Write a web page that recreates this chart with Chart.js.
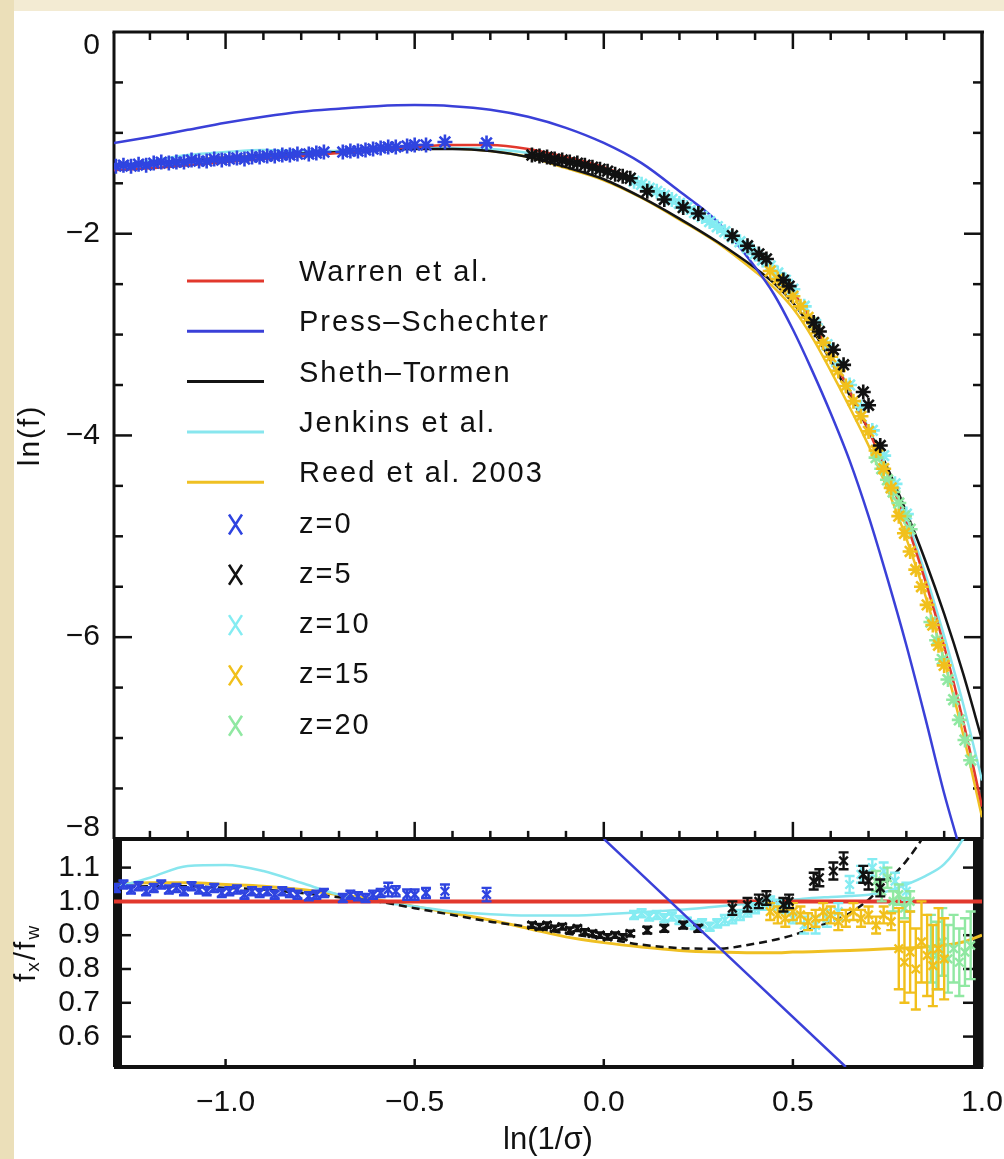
<!DOCTYPE html>
<html>
<head>
<meta charset="utf-8">
<title>ln(f) vs ln(1/σ)</title>
<script src="https://cdn.jsdelivr.net/npm/chart.js@4.4.1/dist/chart.umd.min.js"></script>
<style>
  html, body { margin: 0; padding: 0; background: #f0e6c8; }
  canvas { display: block; }
</style>
</head>
<body>
<canvas id="massFn" width="1004" height="1159"></canvas>
<script>
// =========================
// Data
// x = ln(1/sigma), upper panel = ln(f), lower panel = f_x / f_warren
// =========================

const xMin = -1.295;
const xMax = 1.0;

// shared x grid for the fitted curves
const lnSigmaGrid = [-1.295, -1.2, -1.1, -1.0, -0.9, -0.8, -0.7, -0.6, -0.5, -0.4, -0.3, -0.2, -0.1, 0.0, 0.1,
                     0.2, 0.3, 0.4, 0.45, 0.5, 0.55, 0.6, 0.65, 0.7, 0.75, 0.8, 0.85, 0.9, 0.95, 1.0];

// upper panel curves, ln(f)
const warrenLnF   = [-1.37, -1.35, -1.32, -1.29, -1.26, -1.23, -1.20, -1.17, -1.14, -1.12, -1.12, -1.16, -1.24, -1.34, -1.50,
                     -1.70, -1.93, -2.21, -2.37, -2.58, -2.86, -3.20, -3.56, -3.95, -4.38, -4.87, -5.44, -6.09, -6.83, -7.68];
const shethLnF    = [-1.33, -1.31, -1.28, -1.25, -1.23, -1.205, -1.19, -1.17, -1.16, -1.16, -1.18, -1.24, -1.34, -1.46, -1.64,
                     -1.85, -2.08, -2.34, -2.49, -2.685, -2.94, -3.26, -3.60, -3.945, -4.32, -4.76, -5.24, -5.77, -6.36, -7.02];
const jenkinsLnF  = [-1.33, -1.28, -1.22, -1.19, -1.17, -1.18, -1.18, -1.17, -1.155, -1.15, -1.16, -1.20, -1.28, -1.38, -1.53,
                     -1.725, -1.945, -2.215, -2.37, -2.575, -2.85, -3.19, -3.545, -3.93, -4.35, -4.82, -5.37, -5.99, -6.66, -7.42];
const reedLnF     = [-1.32, -1.30, -1.27, -1.24, -1.22, -1.20, -1.18, -1.165, -1.155, -1.155, -1.18, -1.24, -1.35, -1.47, -1.645,
                     -1.86, -2.09, -2.375, -2.535, -2.74, -3.02, -3.36, -3.72, -4.10, -4.53, -5.02, -5.585, -6.23, -6.96, -7.785];

const pressX      = [-1.295, -1.2, -1.1, -1.0, -0.9, -0.8, -0.7, -0.6, -0.5, -0.4, -0.3, -0.2, -0.1, 0.0, 0.1,
                     0.2, 0.3, 0.4, 0.45, 0.5, 0.55, 0.6, 0.65, 0.7, 0.75, 0.8, 0.85, 0.9, 0.934];
const pressLnF    = [-1.10, -1.04, -0.97, -0.90, -0.84, -0.79, -0.76, -0.735, -0.725, -0.735, -0.77, -0.84, -0.95, -1.10, -1.30,
                     -1.58, -1.88, -2.33, -2.60, -2.95, -3.35, -3.78, -4.25, -4.80, -5.42, -6.08, -6.80, -7.55, -8.0];

// lower panel curves, ratio to Warren et al.
const shethRatio   = [1.04, 1.045, 1.045, 1.04, 1.035, 1.025, 1.012, 1.0, 0.98, 0.96, 0.94, 0.925, 0.905, 0.89, 0.872,
                      0.862, 0.86, 0.875, 0.886, 0.90, 0.92, 0.94, 0.965, 1.005, 1.06, 1.12, 1.20, 1.30, 1.42, 1.55];
const jenkinsRatio = [1.04, 1.07, 1.105, 1.108, 1.09, 1.055, 1.02, 1.0, 0.985, 0.97, 0.962, 0.958, 0.958, 0.962, 0.968,
                      0.975, 0.985, 0.995, 1.0, 1.005, 1.01, 1.013, 1.016, 1.02, 1.03, 1.05, 1.075, 1.11, 1.185, 1.30];
const reedRatio    = [1.05, 1.055, 1.055, 1.05, 1.045, 1.035, 1.02, 1.005, 0.985, 0.965, 0.945, 0.92, 0.895, 0.878, 0.865,
                      0.855, 0.85, 0.848, 0.848, 0.85, 0.851, 0.853, 0.855, 0.857, 0.86, 0.862, 0.865, 0.87, 0.88, 0.90];
const warrenRatioX = [-1.295, 1.0];
const warrenRatio  = [1.0, 1.0];
const pressRatioX  = [0.0, 0.64];
const pressRatio   = [1.185, 0.51];

// simulations, z = 0
const z0X     = [-1.29, -1.27, -1.25, -1.23, -1.21, -1.19, -1.17, -1.15, -1.13, -1.11, -1.09, -1.07, -1.05, -1.03,
                 -1.01, -0.99, -0.97, -0.95, -0.93, -0.91, -0.89, -0.87, -0.85, -0.83, -0.81, -0.78, -0.76, -0.74,
                 -0.69, -0.67, -0.65, -0.63, -0.61, -0.59, -0.57, -0.55, -0.52, -0.50, -0.47, -0.42, -0.31];
const z0LnF   = [-1.33, -1.32, -1.33, -1.31, -1.32, -1.30, -1.29, -1.30, -1.29, -1.29, -1.27, -1.28, -1.28, -1.26,
                 -1.27, -1.26, -1.25, -1.26, -1.24, -1.24, -1.23, -1.23, -1.22, -1.22, -1.21, -1.21, -1.20, -1.19,
                 -1.19, -1.18, -1.18, -1.17, -1.16, -1.15, -1.14, -1.14, -1.13, -1.12, -1.12, -1.09, -1.10];
const z0Ratio = [1.04, 1.05, 1.035, 1.045, 1.03, 1.04, 1.05, 1.035, 1.04, 1.03, 1.045, 1.035, 1.03, 1.04,
                 1.025, 1.03, 1.035, 1.02, 1.03, 1.025, 1.03, 1.02, 1.03, 1.025, 1.02, 1.015, 1.02, 1.025,
                 1.01, 1.02, 1.015, 1.01, 1.02, 1.025, 1.035, 1.03, 1.02, 1.02, 1.025, 1.03, 1.02];
const z0Err   = [0.012, 0.012, 0.012, 0.012, 0.012, 0.012, 0.012, 0.012, 0.012, 0.012, 0.012, 0.012, 0.012, 0.012,
                 0.012, 0.012, 0.012, 0.012, 0.012, 0.012, 0.012, 0.012, 0.012, 0.012, 0.012, 0.012, 0.012, 0.012,
                 0.012, 0.012, 0.012, 0.012, 0.012, 0.012, 0.02, 0.015, 0.015, 0.015, 0.015, 0.02, 0.02];

// z = 5
const z5X     = [-0.19, -0.17, -0.15, -0.13, -0.11, -0.09, -0.07, -0.05, -0.03, -0.01, 0.01, 0.03, 0.05, 0.07,
                 0.115, 0.16, 0.21, 0.25, 0.34, 0.38, 0.41, 0.43, 0.475, 0.49, 0.555, 0.57, 0.607, 0.634,
                 0.686, 0.70, 0.731];
const z5LnF   = [-1.22, -1.23, -1.24, -1.26, -1.27, -1.29, -1.30, -1.32, -1.34, -1.36, -1.38, -1.41, -1.43, -1.45,
                 -1.58, -1.66, -1.74, -1.80, -2.02, -2.12, -2.20, -2.25, -2.46, -2.52, -2.88, -2.97, -3.15, -3.30,
                 -3.57, -3.70, -4.10];
const z5Ratio = [0.93, 0.925, 0.93, 0.92, 0.925, 0.915, 0.92, 0.91, 0.905, 0.90, 0.895, 0.90, 0.895, 0.905,
                 0.915, 0.92, 0.93, 0.92, 0.98, 0.99, 1.0, 1.01, 0.99, 1.0, 1.06, 1.07, 1.09, 1.12,
                 1.08, 1.06, 1.04];
const z5Err   = [0.008, 0.008, 0.008, 0.008, 0.008, 0.008, 0.008, 0.008, 0.008, 0.008, 0.008, 0.008, 0.008, 0.008,
                 0.01, 0.01, 0.01, 0.01, 0.02, 0.02, 0.02, 0.02, 0.02, 0.02, 0.025, 0.025, 0.025, 0.025,
                 0.025, 0.025, 0.025];

// z = 10
const z10X     = [0.08, 0.10, 0.12, 0.14, 0.16, 0.18, 0.20, 0.22, 0.24, 0.26, 0.28, 0.30, 0.32, 0.34, 0.36, 0.38,
                  0.40, 0.42, 0.44, 0.46, 0.48, 0.50, 0.53, 0.56, 0.59, 0.62, 0.65, 0.68, 0.71, 0.74, 0.77, 0.80];
const z10LnF   = [-1.48, -1.51, -1.55, -1.58, -1.62, -1.66, -1.70, -1.74, -1.79, -1.83, -1.88, -1.93, -1.98, -2.03, -2.08, -2.14,
                  -2.20, -2.26, -2.32, -2.39, -2.46, -2.55, -2.72, -2.90, -3.10, -3.31, -3.50, -3.72, -3.95, -4.20, -4.48, -4.78];
const z10Ratio = [0.96, 0.965, 0.955, 0.96, 0.95, 0.955, 0.945, 0.94, 0.93, 0.935, 0.925, 0.935, 0.945, 0.95, 0.96, 0.97,
                  0.98, 0.99, 1.0, 0.99, 0.98, 0.95, 0.93, 0.93, 0.95, 0.97, 1.05, 1.08, 1.10, 1.09, 1.06, 1.03];
const z10Err   = [0.012, 0.012, 0.012, 0.012, 0.012, 0.012, 0.012, 0.012, 0.012, 0.012, 0.012, 0.012, 0.015, 0.015, 0.015, 0.015,
                  0.015, 0.015, 0.015, 0.015, 0.015, 0.015, 0.025, 0.025, 0.025, 0.025, 0.025, 0.025, 0.025, 0.025, 0.025, 0.025];

// z = 15
const z15X     = [0.44, 0.46, 0.48, 0.50, 0.52, 0.54, 0.56, 0.58, 0.60, 0.62, 0.64, 0.66, 0.68,
                  0.70, 0.72, 0.74, 0.76, 0.78, 0.795, 0.81, 0.825, 0.84, 0.855, 0.87, 0.885, 0.90];
const z15LnF   = [-2.37, -2.45, -2.53, -2.62, -2.72, -2.83, -2.95, -3.08, -3.22, -3.36, -3.51, -3.66, -3.81,
                  -3.96, -4.15, -4.33, -4.52, -4.80, -4.97, -5.15, -5.33, -5.50, -5.68, -5.88, -6.08, -6.28];
const z15Ratio = [0.97, 0.96, 0.95, 0.97, 0.96, 0.94, 0.95, 0.97, 0.96, 0.94, 0.95, 0.97, 0.95,
                  0.96, 0.93, 0.96, 0.94, 0.86, 0.82, 0.85, 0.80, 0.88, 0.84, 0.81, 0.86, 0.83];
const z15Err   = [0.025, 0.025, 0.025, 0.025, 0.025, 0.025, 0.025, 0.025, 0.025, 0.025, 0.025, 0.025, 0.025,
                  0.025, 0.025, 0.025, 0.025, 0.12, 0.12, 0.12, 0.12, 0.12, 0.12, 0.12, 0.12, 0.12];

// z = 20
const z20X     = [0.72, 0.735, 0.75, 0.765, 0.78, 0.795, 0.81, 0.865, 0.88, 0.895, 0.91, 0.925, 0.94, 0.955, 0.97];
const z20LnF   = [-4.22, -4.33, -4.44, -4.56, -4.67, -4.80, -4.93, -5.85, -6.03, -6.22, -6.42, -6.62, -6.82, -7.02, -7.22];
const z20Ratio = [1.06, 1.03, 1.07, 1.0, 1.02, 0.98, 1.0, 0.86, 0.84, 0.88, 0.83, 0.86, 0.82, 0.85, 0.87];
const z20Err   = [0.03, 0.03, 0.03, 0.03, 0.03, 0.03, 0.03, 0.1, 0.1, 0.1, 0.1, 0.1, 0.1, 0.1, 0.1];

// tick labels
const lnfTickLabels = [0, -2, -4, -6, -8];

// =========================
// Styles
// =========================

const FONT = "'Liberation Sans', 'DejaVu Sans', sans-serif";
const INK = "#111111";
const COLORS = {
  warren: "#e2382d",
  press: "#3a40d8",
  sheth: "#141414",
  jenkins: "#88e6ee",
  reed: "#efc023",
  z0: "#2f44e0",
  z5: "#111111",
  z10: "#84ecf2",
  z15: "#f1c01c",
  z20: "#90e8a2"
};
const lnfLabelNudge = [14, 0, 0, 0, -11];   // the end labels sit inside the frame

// =========================
// Helpers
// =========================

function pts(xs, ys) {
  return xs.map((x, i) => ({ x: x, y: ys[i] }));
}

function curve(label, xs, ys, color, axis, order, extra) {
  return Object.assign({
    label: label,
    data: pts(xs, ys),
    yAxisID: axis,
    showLine: true,
    borderColor: color,
    borderWidth: 2.5,
    pointRadius: 0,
    fill: false,
    cubicInterpolationMode: "monotone",
    order: order
  }, extra || {});
}

function sims(label, xs, ys, color, axis, order, errs) {
  const upper = axis === "y";
  return {
    label: label,
    data: pts(xs, ys),
    yAxisID: axis,
    showLine: false,
    pointStyle: upper ? "star" : "crossRot",
    pointRadius: upper ? 7.5 : 6,
    pointBorderWidth: upper ? 2.6 : 2.4,
    pointBorderColor: color,
    pointBackgroundColor: color,
    borderColor: color,
    order: order,
    errors: errs || null
  };
}

const datasets = [
  // upper panel
  curve("Reed et al. 2003", lnSigmaGrid, reedLnF, COLORS.reed, "y", 24),
  curve("Jenkins et al.", lnSigmaGrid, jenkinsLnF, COLORS.jenkins, "y", 23),
  curve("Sheth-Tormen", lnSigmaGrid, shethLnF, COLORS.sheth, "y", 22),
  curve("Warren et al.", lnSigmaGrid, warrenLnF, COLORS.warren, "y", 21),
  curve("Press-Schechter", pressX, pressLnF, COLORS.press, "y", 20),
  sims("z=0", z0X, z0LnF, COLORS.z0, "y", 15),
  sims("z=10", z10X, z10LnF, COLORS.z10, "y", 14),
  sims("z=20", z20X, z20LnF, COLORS.z20, "y", 13),
  sims("z=15", z15X, z15LnF, COLORS.z15, "y", 12),
  sims("z=5", z5X, z5LnF, COLORS.z5, "y", 11),
  // lower panel
  curve("Reed ratio", lnSigmaGrid, reedRatio, COLORS.reed, "y2", 24, { borderWidth: 3 }),
  curve("Jenkins ratio", lnSigmaGrid, jenkinsRatio, COLORS.jenkins, "y2", 23, { borderWidth: 2.5 }),
  curve("Sheth-Tormen ratio", lnSigmaGrid, shethRatio, COLORS.sheth, "y2", 22, { borderDash: [8, 5] }),
  curve("Warren ratio", warrenRatioX, warrenRatio, COLORS.warren, "y2", 21, { borderWidth: 4 }),
  sims("z=0 ratio", z0X, z0Ratio, COLORS.z0, "y2", 15, z0Err),
  sims("z=10 ratio", z10X, z10Ratio, COLORS.z10, "y2", 14, z10Err),
  sims("z=20 ratio", z20X, z20Ratio, COLORS.z20, "y2", 13, z20Err),
  sims("z=15 ratio", z15X, z15Ratio, COLORS.z15, "y2", 12, z15Err),
  sims("z=5 ratio", z5X, z5Ratio, COLORS.z5, "y2", 11, z5Err),
  curve("Press-Schechter ratio", pressRatioX, pressRatio, COLORS.press, "y2", 0)
];

// =========================
// Plugins
// =========================

// paper background
const paperPlugin = {
  id: "paper",
  beforeDraw(chart) {
    const ctx = chart.ctx;
    ctx.save();
    ctx.fillStyle = "#f3ebd3";
    ctx.fillRect(0, 0, chart.width, chart.height);
    ctx.fillStyle = "#ebdfb9";
    ctx.fillRect(0, 0, 14, chart.height);
    ctx.fillStyle = "#ffffff";
    ctx.fillRect(14, 11, chart.width - 14, chart.height - 11);
    ctx.restore();
  }
};

// clip every dataset to its own panel, draw error bars under the markers
const panelPlugin = {
  id: "panel",
  beforeDatasetDraw(chart, args) {
    const ctx = chart.ctx;
    const a = chart.chartArea;
    const ds = chart.data.datasets[args.index];
    const ys = chart.scales[args.meta.yAxisID];
    ctx.save();
    ctx.beginPath();
    ctx.rect(a.left, ys.top, a.right - a.left, ys.bottom - ys.top);
    ctx.clip();
    if (ds.errors) {
      const xs = chart.scales.x;
      ctx.save();
      ctx.strokeStyle = ds.pointBorderColor;
      ctx.lineWidth = 2.4;
      ds.data.forEach((p, i) => {
        const px = xs.getPixelForValue(p.x);
        const top = ys.getPixelForValue(p.y + ds.errors[i]);
        const bot = ys.getPixelForValue(p.y - ds.errors[i]);
        ctx.beginPath();
        ctx.moveTo(px, top); ctx.lineTo(px, bot);
        ctx.moveTo(px - 5, top); ctx.lineTo(px + 5, top);
        ctx.moveTo(px - 5, bot); ctx.lineTo(px + 5, bot);
        ctx.stroke();
      });
      ctx.restore();
    }
  },
  afterDatasetDraw(chart) {
    chart.ctx.restore();
  }
};

// IDL style frame with inward ticks
const framePlugin = {
  id: "frame",
  beforeDatasetsDraw(chart) {
    const ctx = chart.ctx;
    const a = chart.chartArea;
    const xs = chart.scales.x, up = chart.scales.y, lo = chart.scales.y2;
    const split = up.bottom;
    const seg = (x1, y1, x2, y2, w) => {
      ctx.lineWidth = w;
      ctx.beginPath();
      ctx.moveTo(x1, y1);
      ctx.lineTo(x2, y2);
      ctx.stroke();
    };
    ctx.save();
    ctx.strokeStyle = INK;
    ctx.fillStyle = INK;
    seg(a.left - 1.5, a.top, a.right + 2, a.top, 3);
    seg(a.left, a.top, a.left, split, 3);
    seg(a.right, a.top, a.right, split, 3.5);
    seg(a.left, split, a.right, split, 4);
    seg(a.left, a.bottom, a.right + 1, a.bottom, 4);
    ctx.fillRect(a.left - 1, lo.top, 9, lo.bottom - lo.top);
    ctx.fillRect(a.right - 9, lo.top, 10.5, lo.bottom - lo.top);

    for (let k = -12; k <= 9; k++) {
      const px = xs.getPixelForValue(k / 10);
      const major = k % 5 === 0;
      const len = major ? 17 : 8;
      seg(px, a.top, px, a.top + len, 2.5);
      seg(px, split, px, split - len, 2.5);
      if (major) seg(px, a.bottom, px, a.bottom - 8, 2.5);
    }
    for (let k = 1; k < 16; k++) {
      const py = up.getPixelForValue(-k / 2);
      const len = k % 4 === 0 ? 18 : 9;
      seg(a.left, py, a.left + len, py, 2.5);
      seg(a.right, py, a.right - len, py, 2.5);
    }
    lo.ticks.forEach(t => {
      const py = lo.getPixelForValue(t.value);
      seg(a.left + 8, py, a.left + 17, py, 2.5);
      seg(a.right - 9, py, a.right - 19, py, 2.5);
    });
    ctx.restore();
  },
  afterDraw(chart) {
    const ctx = chart.ctx;
    const up = chart.scales.y, lo = chart.scales.y2;
    ctx.save();
    ctx.fillStyle = INK;
    ctx.font = "30px " + FONT;
    ctx.textAlign = "right";
    ctx.textBaseline = "middle";
    lnfTickLabels.forEach((v, i) => {
      const txt = v === 0 ? "0" : "\u2212" + Math.abs(v);
      ctx.fillText(txt, 100, up.getPixelForValue(v) + lnfLabelNudge[i]);
    });

    // y titles
    ctx.textAlign = "center";
    ctx.save();
    ctx.translate(31, (up.top + up.bottom) / 2);
    ctx.rotate(-Math.PI / 2);
    ctx.font = "30px " + FONT;
    ctx.letterSpacing = "2px";
    ctx.fillText("ln(f)", 0, 0);
    ctx.restore();

    const parts = [["f", 30, 0], ["x", 19, 7], ["/", 30, 0], ["f", 30, 0], ["w", 19, 7]];
    ctx.save();
    ctx.translate(27, (lo.top + lo.bottom) / 2);
    ctx.rotate(-Math.PI / 2);
    ctx.textAlign = "left";
    let total = 0;
    parts.forEach(p => { ctx.font = p[1] + "px " + FONT; total += ctx.measureText(p[0]).width + 2; });
    let cx = -total / 2;
    parts.forEach(p => {
      ctx.font = p[1] + "px " + FONT;
      ctx.fillText(p[0], cx, p[2]);
      cx += ctx.measureText(p[0]).width + 2;
    });
    ctx.restore();
    ctx.restore();
  }
};

// legend inside the upper panel
const legendLines = [
  ["Warren et al.", COLORS.warren],
  ["Press\u2013Schechter", COLORS.press],
  ["Sheth\u2013Tormen", COLORS.sheth],
  ["Jenkins et al.", COLORS.jenkins],
  ["Reed et al. 2003", COLORS.reed]
];
const legendMarks = [
  ["z=0", COLORS.z0],
  ["z=5", COLORS.z5],
  ["z=10", COLORS.z10],
  ["z=15", COLORS.z15],
  ["z=20", COLORS.z20]
];

const legendPlugin = {
  id: "insetLegend",
  afterDraw(chart) {
    const ctx = chart.ctx;
    const rowY = i => 273 + i * 50.3;
    ctx.save();
    ctx.font = "29px " + FONT;
    ctx.letterSpacing = "2px";
    ctx.textBaseline = "middle";
    ctx.textAlign = "left";
    legendLines.forEach((item, i) => {
      const y = rowY(i);
      ctx.strokeStyle = item[1];
      ctx.lineWidth = 3;
      ctx.beginPath();
      ctx.moveTo(187, y + 8);
      ctx.lineTo(264, y + 8);
      ctx.stroke();
      ctx.fillStyle = INK;
      ctx.fillText(item[0], 299, y);
    });
    legendMarks.forEach((item, j) => {
      const y = rowY(j + legendLines.length);
      ctx.strokeStyle = item[1];
      ctx.lineWidth = 2.5;
      ctx.beginPath();
      ctx.moveTo(229, y - 10); ctx.lineTo(242, y + 10);
      ctx.moveTo(242, y - 10); ctx.lineTo(229, y + 10);
      ctx.stroke();
      ctx.fillStyle = INK;
      ctx.fillText(item[0], 299, y);
    });
    ctx.restore();
  }
};

// =========================
// Chart
// =========================

const tickFont = { family: FONT, size: 30 };
const fmt = v => (v < 0 ? "\u2212" : "") + Math.abs(v).toFixed(1);

new Chart(document.getElementById("massFn").getContext("2d"), {
  type: "scatter",
  data: { datasets: datasets },
  options: {
    responsive: false,
    devicePixelRatio: 1,
    animation: false,
    layout: { padding: { left: 0, top: 28, right: 22, bottom: 0 } },
    plugins: { legend: { display: false }, tooltip: { enabled: false } },
    scales: {
      x: {
        type: "linear",
        position: "bottom",
        min: xMin,
        max: xMax,
        grid: { display: false, drawTicks: false },
        border: { display: false },
        ticks: { stepSize: 0.5, includeBounds: false, autoSkip: false, maxRotation: 0,
                 font: tickFont, color: INK, padding: 18, callback: fmt },
        title: { display: true, text: "ln(1/\u03c3)", color: INK,
                 font: { family: FONT, size: 31 }, padding: { top: 0, bottom: 0 } },
        afterFit(scale) {
          scale.height = 92;
          scale.paddingLeft = 0;
          scale.paddingRight = 0;
        }
      },
      y2: {
        type: "linear",
        position: "left",
        stack: "panels",
        stackWeight: 229,
        min: 0.51,
        max: 1.185,
        grid: { display: false, drawTicks: false },
        border: { display: false },
        ticks: { stepSize: 0.1, includeBounds: false, autoSkip: false, font: tickFont,
                 color: INK, padding: 14, callback: v => v.toFixed(1) },
        afterFit(scale) { scale.width = 114; }
      },
      y: {
        type: "linear",
        position: "left",
        stack: "panels",
        stackWeight: 810,
        min: -8,
        max: 0,
        grid: { display: false, drawTicks: false },
        border: { display: false },
        ticks: { display: false, stepSize: 2 },
        afterFit(scale) { scale.width = 114; }
      }
    }
  },
  plugins: [paperPlugin, panelPlugin, framePlugin, legendPlugin]
});
</script>
</body>
</html>
